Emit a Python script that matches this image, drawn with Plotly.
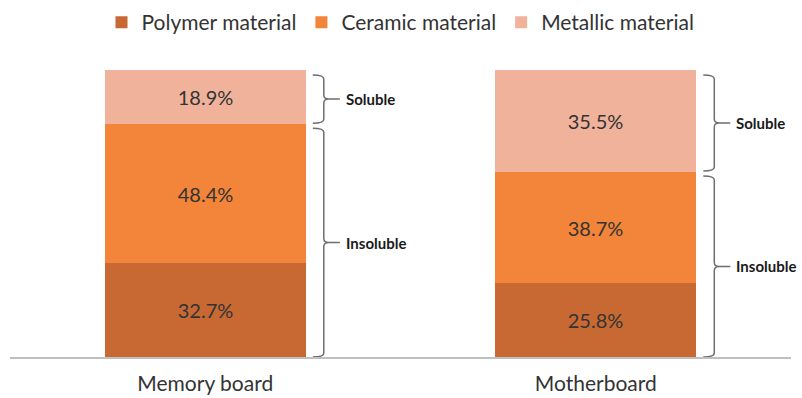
import plotly.graph_objects as go

categories = ["Memory board", "Motherboard"]
polymer = [32.7, 25.8]
ceramic = [48.4, 38.7]
metallic = [18.9, 35.5]
series_names = ["Polymer material", "Ceramic material", "Metallic material"]
group_labels = ["Soluble", "Insoluble"]

W, H = 802, 398
ML, MR, MT, MB = 10, 11, 70, 41
colors = ["#C86933", "#F2853A", "#F1B29C"]
FONT = "Lato"

fig = go.Figure()
for name, vals, col in zip(series_names, [polymer, ceramic, metallic], colors):
    fig.add_trace(go.Bar(
        x=categories, y=vals, name=name, marker=dict(color=col, line=dict(width=0)),
        texttemplate="%{y:.1f}%", textposition="inside", insidetextanchor="middle",
        textfont=dict(family=FONT, size=20, color="#333333"), width=0.515,
    ))

# braces
pw = W - ML - MR
ph = H - MT - MB
xr_unit = 1.0 / (pw / 2.0)  # x range spans 2 units
yr_unit = 100.0 / ph


def brace(xc, y_top, y_bot):
    xr = xc + 0.515 / 2
    x0 = xr + 7 * xr_unit
    x1 = xr + 18 * xr_unit
    x2 = xr + 23 * xr_unit
    x3 = xr + 34 * xr_unit
    r = 4 * yr_unit
    ym = (y_top + y_bot) / 2
    path = (f"M {x0},{y_top} Q {x1},{y_top} {x1},{y_top - r} L {x1},{ym + r} "
            f"Q {x1},{ym} {x2},{ym} Q {x1},{ym} {x1},{ym - r} L {x1},{y_bot + r} "
            f"Q {x1},{y_bot} {x0},{y_bot} M {x2},{ym} L {x3},{ym}")
    return path, xr + 38 * xr_unit, ym


shapes = []
annots = []
for i in range(len(categories)):
    boundary = polymer[i] + ceramic[i]
    total = boundary + metallic[i]
    spans = [(total - 5 * yr_unit, boundary + 1 * yr_unit),
             (boundary - 4 * yr_unit, 0.0)]
    for lab, (yt, yb) in zip(group_labels, spans):
        p, lx, ly = brace(i, yt, yb)
        shapes.append(dict(type="path", path=p, xref="x", yref="y",
                           line=dict(color="#6E6E6E", width=1.5)))
        annots.append(dict(x=lx, y=ly, xref="x", yref="y", text=f"<b>{lab}</b>",
                           showarrow=False, xanchor="left", yanchor="middle",
                           font=dict(family=FONT, size=15, color="#1A1A1A")))

fig.update_layout(
    width=W, height=H, barmode="stack",
    margin=dict(l=ML, r=MR, t=MT, b=MB, autoexpand=False),
    plot_bgcolor="white", paper_bgcolor="white",
    shapes=shapes, annotations=annots,
    legend=dict(orientation="h", x=0.5, xanchor="center", y=0.995, yanchor="top",
                yref="container", font=dict(family=FONT, size=21, color="#333333"),
                itemwidth=30, traceorder="normal"),
    xaxis=dict(range=[-0.5, 1.5], showgrid=False, showline=True, linecolor="#BFBFBF",
               linewidth=2, ticks="", tickfont=dict(family=FONT, size=21, color="#333333"),
               ticklabelstandoff=7, automargin=False),
    yaxis=dict(range=[0, 100], visible=False, automargin=False),
    bargap=0.0,
)
fig.write_html("out.html")
